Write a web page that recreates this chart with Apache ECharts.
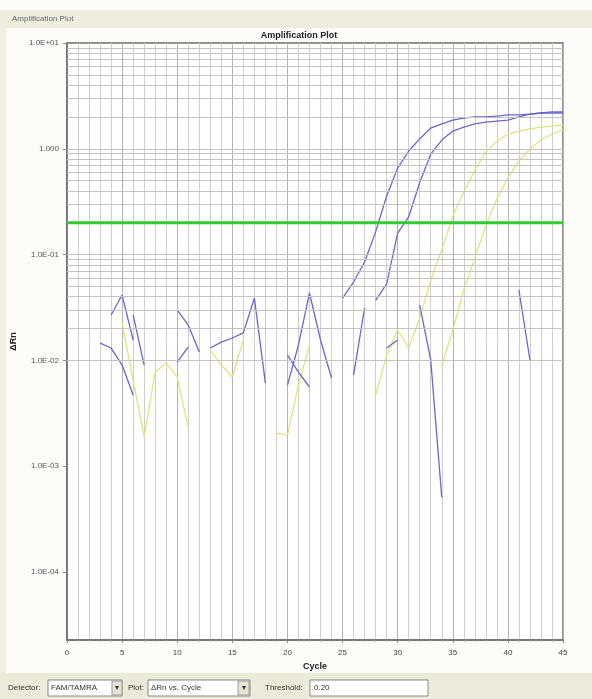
<!DOCTYPE html>
<html><head><meta charset="utf-8">
<script src="https://cdn.jsdelivr.net/npm/echarts@6/dist/echarts.min.js"></script>
<style>html,body{margin:0;padding:0;background:#fcfcf9;}#c{width:592px;height:699px;}</style>
</head><body><div id="c"></div>
<script>
// ---- data (cycle 1..45), null = value not drawn on log scale ----
const cycles = [1,2,3,4,5,6,7,8,9,10,11,12,13,14,15,16,17,18,19,20,21,22,23,24,25,26,27,28,29,30,31,32,33,34,35,36,37,38,39,40,41,42,43,44,45];
const blueA = [null,null,null,0.0269,0.0415,0.0156,null,null,null,0.0299,0.0216,0.0120,null,null,null,null,null,null,null,null,null,null,null,null,0.0389,0.0551,0.0851,0.164,0.358,0.658,0.953,1.24,1.57,1.72,1.87,1.95,2.00,2.00,2.04,2.09,2.09,2.13,2.18,2.18,2.18];
const blueB = [null,null,null,null,null,0.0269,0.00905,null,null,0.00966,0.0134,null,0.0131,0.0149,0.0163,0.0182,0.0389,0.00611,null,0.00585,0.0140,0.0434,0.0156,0.00682,null,null,null,0.037,0.053,0.16,0.227,0.48,0.89,1.21,1.47,1.60,1.72,1.79,1.83,1.87,2.00,2.13,2.18,2.23,2.23];
const blueN = [null,null,0.0146,0.0131,0.00905,0.00471,null,null,null,null,null,null,null,null,null,null,null,null,null,0.0112,0.00777,0.00561,null,null,null,0.00728,0.0313,null,0.0131,0.0156,null,0.0334,0.0101,0.00051,null,null,null,null,null,null,0.0463,0.0101,null,null,null];
const yellowC = [null,null,null,null,0.0226,0.00653,0.00189,0.00777,0.00945,0.00697,0.00230,null,null,null,null,null,null,null,0.00206,0.00197,0.00585,0.0140,null,null,null,null,null,0.00471,0.0112,0.0194,0.0131,0.0252,0.0575,0.1105,0.23,0.39,0.63,0.933,1.18,1.38,1.47,1.54,1.60,1.64,1.68];
const yellowD = [null,null,null,null,null,null,null,null,null,null,null,null,0.0125,0.00905,0.00697,0.0156,null,null,null,null,null,null,null,null,null,null,null,null,null,null,null,null,null,0.0089,0.0194,0.0463,0.093,0.187,0.335,0.53,0.77,0.995,1.21,1.38,1.51];
const threshold = 0.20;
const xTickLabels = ['0','5','10','15','20','25','30','35','40','45'];
const yDecades = [0.0001,0.001,0.01,0.1,1,10];
const yTickLabels = ['1.0E-04','1.0E-03','1.0E-02','1.0E-01','1.000','1.0E+01'];
const yMin = 2.28e-5, yMax = 10;

// log minor grid values (1..9 x 10^k) inside the range
const gridVals = [];
for (let k = -5; k <= 1; k++) for (let m = 1; m <= 9; m++) {
  const v = m * Math.pow(10, k);
  if (v > yMin * 1.01 && v < yMax * 0.99) gridVals.push(v);
}

const chart = echarts.init(document.getElementById('c'), null, {renderer:'canvas'});
const BLUE = '#6767cc', YEL = '#e3e37c', GREEN = '#2fcc2f';
function mk(name, arr, color){
  return {name, type:'line', data: cycles.map((c,i)=>[c, arr[i]]), symbol:'none', showSymbol:false,
    connectNulls:false, lineStyle:{color, width:1.3}, z:4, animation:false, silent:true};
}
const FONT = 'Liberation Sans, Arial, sans-serif';
chart.setOption({
  backgroundColor:'#fcfcf9',
  animation:false,
  grid:{left:67, right:29, top:43, bottom:59, show:true, backgroundColor:'#ffffff', borderColor:'#6d6d6d', borderWidth:1.5},
  xAxis:{type:'value', min:0, max:45, interval:5,
    name:'Cycle', nameLocation:'middle', nameGap:22,
    nameTextStyle:{fontFamily:FONT, fontSize:9, fontWeight:'bold', color:'#222'},
    axisLine:{show:true, lineStyle:{color:'#6d6d6d', width:1.5}},
    axisTick:{show:true, length:3, lineStyle:{color:'#888'}},
    minorTick:{show:true, splitNumber:5, length:2, lineStyle:{color:'#aaa'}},
    axisLabel:{fontFamily:FONT, fontSize:8, color:'#444', margin:9, formatter:(v)=>xTickLabels[Math.round(v/5)] ?? ''},
    splitLine:{show:true, lineStyle:{color:'#b3b3b3', width:1}},
    minorSplitLine:{show:true, lineStyle:{color:'#cdcdcd', width:1}}
  },
  yAxis:{type:'log', logBase:10, min:yMin, max:yMax,
    name:'ΔRn', nameLocation:'middle', nameGap:49, nameRotate:90, nameMoveOverlap:false,
    nameTextStyle:{fontFamily:FONT, fontSize:9, fontWeight:'bold', color:'#222'},
    axisLine:{show:true, lineStyle:{color:'#6d6d6d', width:1.5}},
    axisTick:{show:true, length:4, lineStyle:{color:'#888'}},
    splitLine:{show:false},
    axisLabel:{fontFamily:FONT, fontSize:8, color:'#555', margin:8, showMaxLabel:true, showMinLabel:false,
      formatter:(v)=>{ for (let i=0;i<yDecades.length;i++){ if (Math.abs(Math.log10(v)-Math.log10(yDecades[i]))<1e-3) return yTickLabels[i]; } return ''; }}
  },
  graphic:[
    {type:'rect', shape:{x:0,y:10,width:592,height:18}, style:{fill:'#efedde'}, z:0},
    {type:'rect', shape:{x:0,y:28,width:6,height:645}, style:{fill:'#f1efe2'}, z:0},
    {type:'text', x:12, y:19, style:{text:'Amplification Plot', fontFamily:FONT, fontSize:8, fill:'#666', verticalAlign:'middle'}},
    {type:'text', x:299, y:36, style:{text:'Amplification Plot', fontFamily:FONT, fontSize:9, fontWeight:'bold', fill:'#222', align:'center', verticalAlign:'middle'}},
    {type:'rect', shape:{x:0,y:673,width:592,height:26}, style:{fill:'#ecead9'}, z:0},
    {type:'text', x:8, y:688, style:{text:'Detector:', fontFamily:FONT, fontSize:8, fill:'#333', verticalAlign:'middle'}},
    {type:'rect', shape:{x:48,y:680,width:74,height:16}, style:{fill:'#fff', stroke:'#8a8a8a', lineWidth:1}},
    {type:'text', x:51, y:688, style:{text:'FAM/TAMRA', fontFamily:FONT, fontSize:8, fill:'#333', verticalAlign:'middle'}},
    {type:'rect', shape:{x:112,y:681,width:10,height:14}, style:{fill:'#e6e3d3', stroke:'#999', lineWidth:1}},
    {type:'text', x:117, y:688, style:{text:'▾', fontFamily:FONT, fontSize:8, fill:'#333', align:'center', verticalAlign:'middle'}},
    {type:'text', x:128, y:688, style:{text:'Plot:', fontFamily:FONT, fontSize:8, fill:'#333', verticalAlign:'middle'}},
    {type:'rect', shape:{x:148,y:680,width:102,height:16}, style:{fill:'#fff', stroke:'#8a8a8a', lineWidth:1}},
    {type:'text', x:151, y:688, style:{text:'ΔRn vs. Cycle', fontFamily:FONT, fontSize:8, fill:'#333', verticalAlign:'middle'}},
    {type:'rect', shape:{x:238,y:681,width:11,height:14}, style:{fill:'#e6e3d3', stroke:'#999', lineWidth:1}},
    {type:'text', x:243.5, y:688, style:{text:'▾', fontFamily:FONT, fontSize:8, fill:'#333', align:'center', verticalAlign:'middle'}},
    {type:'text', x:265, y:688, style:{text:'Threshold:', fontFamily:FONT, fontSize:8, fill:'#333', verticalAlign:'middle'}},
    {type:'rect', shape:{x:310,y:680,width:118,height:16}, style:{fill:'#fff', stroke:'#8a8a8a', lineWidth:1}},
    {type:'text', x:314, y:688, style:{text:'0.20', fontFamily:FONT, fontSize:8, fill:'#333', verticalAlign:'middle'}}
  ],
  series:[
    {name:'grid', type:'line', data:[[0,null]], symbol:'none', silent:true, z:1,
      markLine:{silent:true, symbol:'none', animation:false, label:{show:false},
        lineStyle:{color:'#c4c4c4', width:1, type:'solid'},
        data: gridVals.map(v=>({yAxis:v}))}},
    mk('Yellow C', yellowC, YEL),
    mk('Yellow D', yellowD, YEL),
    mk('Blue N', blueN, BLUE),
    mk('Blue B', blueB, BLUE),
    mk('Blue A', blueA, BLUE),
    {name:'Threshold', type:'line', data:[[0,threshold],[45,threshold]], symbol:'none', silent:true, z:5,
      lineStyle:{color:GREEN, width:3}}
  ]
});
</script></body></html>
